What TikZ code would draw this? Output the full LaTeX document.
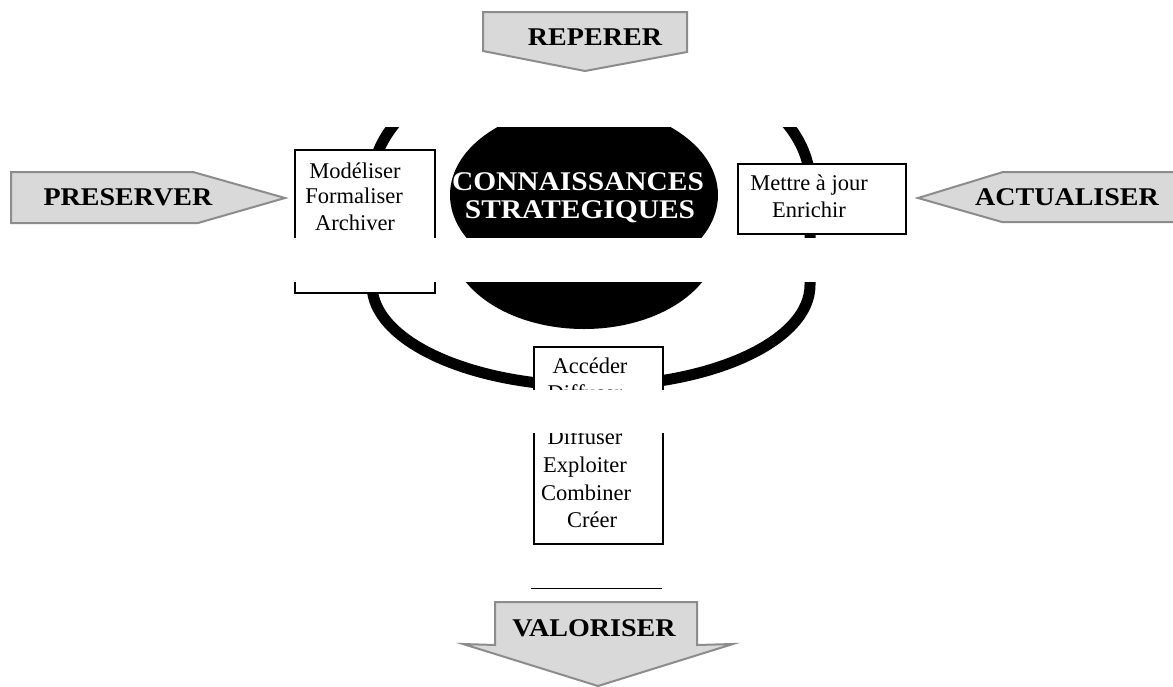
\documentclass[tikz,border=0pt]{standalone}
\usepackage{fontspec}
\setmainfont{Liberation Serif}
\usepackage{graphicx}

\tikzset{
  ringline/.style={line width=11pt, black},
  core/.style={fill=black},
  tagbox/.style={draw=black, line width=2pt, fill=white, inner sep=0pt, anchor=north west},
  verb/.style={anchor=base, inner sep=0pt, font=\fontsize{22.5}{26}\selectfont},
  coretext/.style={anchor=base, inner sep=0pt, text=white, font=\bfseries\fontsize{27}{30}\selectfont},
  blockarrow/.style={draw=black!45, line width=2pt, fill=black!15, line join=miter},
  arrowtext/.style={anchor=base, inner sep=0pt, font=\bfseries\fontsize{25.5}{28}\selectfont},
}

% wide bold labels
\newcommand\widebold[1]{\scalebox{1.1}[1]{#1}}

% the knowledge cycle: ring, core and the three activity boxes
\newcommand\cycleshapes{%
  \draw[ringline] (372,183) arc[start angle=180, end angle=360, x radius=219, y radius=133]
     -- (810,240) arc[start angle=0, end angle=180, x radius=219, y radius=101] -- cycle;
  \fill[core] (584,195) ellipse[x radius=134, y radius=89];
  \node[tagbox, minimum width=140pt, minimum height=98pt] (keepbox) at (294,149) {};
  \node[tagbox, minimum width=168pt, minimum height=70pt] (updbox) at (737,163) {};
  \node[tagbox, minimum width=129pt, minimum height=153pt] (usebox) at (533,301) {};
}

\begin{document}
\begin{tikzpicture}[x=1pt, y=-1pt]
  \useasboundingbox (0,0) rectangle (1173,686);
  \fill[white] (0,0) rectangle (1173,686);

  % upper band of the cycle
  \begin{scope}
    \clip (0,127) rectangle (1173,237);
    \cycleshapes
    \node[coretext] (core1) at (578,190) {\scalebox{1.09}[1]{CONNAISSANCES}};
    \node[coretext] (core2) at (580,218) {\scalebox{1.09}[1]{STRATEGIQUES}};
    \node[verb] (k1) at (355,178) {Modéliser};
    \node[verb] (k2) at (354,203) {Formaliser};
    \node[verb] (k3) at (355,230) {Archiver};
    \node[verb] (u1) at (809,190) {Mettre à jour};
    \node[verb] (u2) at (809,217) {Enrichir};
  \end{scope}

  % middle band
  \begin{scope}
    \clip (0,282) rectangle (1173,389);
    \begin{scope}[yshift=-45pt]
      \cycleshapes
      \node[verb] (e1) at (590,328) {Accéder};
      \node[verb] (e2a) at (585,355) {Diffuser};
    \end{scope}
  \end{scope}

  % lower band
  \begin{scope}
    \clip (0,433) rectangle (1173,544);
    \begin{scope}[yshift=-89pt]
      \cycleshapes
      \node[verb] (e2) at (585,355) {Diffuser};
      \node[verb] (e3) at (585,383) {Exploiter};
      \node[verb] (e4) at (586,411) {Combiner};
      \node[verb] (e5) at (592,438) {Créer};
    \end{scope}
  \end{scope}

  % rule above the last arrow
  \coordinate (ruleL) at (531,588.5);
  \coordinate (ruleR) at (662,588.5);
  \draw[line width=1.5pt] (ruleL) -- (ruleR);

  % block arrows
  \draw[blockarrow] (483,12) -- (687,12) -- (687,52) -- (585,71) -- (483,51) -- cycle;
  \node[arrowtext] (spot) at (595,45) {\widebold{REPERER}};

  \draw[blockarrow] (11,172) -- (193,172) -- (285,198) -- (198,223) -- (11,223) -- cycle;
  \node[arrowtext] (keep) at (128,205) {\widebold{PRESERVER}};

  \draw[blockarrow] (1176,172) -- (1003,172) -- (918,198) -- (1002,222) -- (1176,222) -- cycle;
  \node[arrowtext] (upd) at (1067,205) {\widebold{ACTUALISER}};

  \draw[blockarrow] (495,602) -- (697,602) -- (697,645) -- (733,644) -- (598,686)
     -- (463,644) -- (495,645) -- cycle;
  \node[arrowtext] (value) at (594,636) {\widebold{VALORISER}};
\end{tikzpicture}
\end{document}
